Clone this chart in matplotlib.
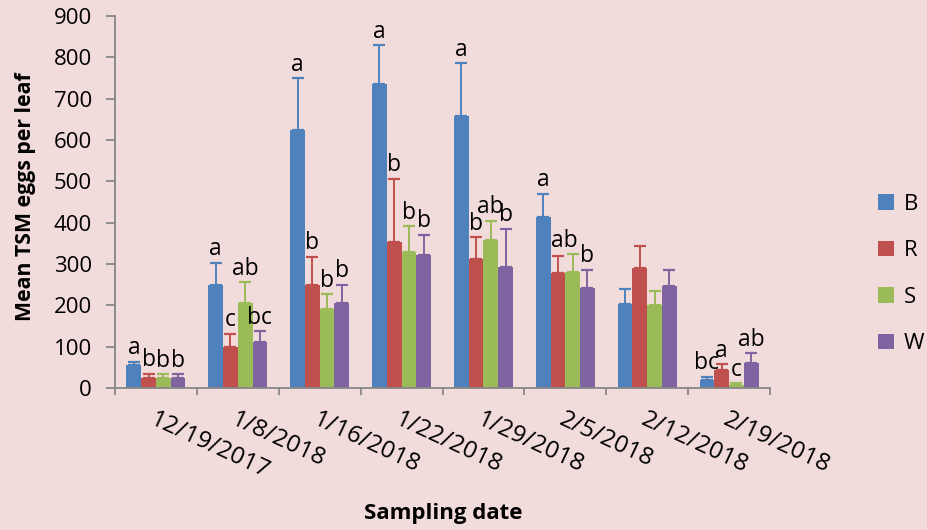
import numpy as np
import matplotlib.pyplot as plt

dates = ['12/19/2017', '1/8/2018', '1/16/2018', '1/22/2018',
         '1/29/2018', '2/5/2018', '2/12/2018', '2/19/2018']
series = ['B', 'R', 'S', 'W']
colors = ['#4F81BD', '#C0504D', '#9BBB59', '#8064A2']

# mean eggs per leaf
b_mean = [55, 248, 623, 736, 658, 414, 203, 19]
r_mean = [25, 100, 249, 353, 312, 279, 290, 44]
s_mean = [25, 206, 191, 330, 358, 281, 201, 7]
w_mean = [25, 112, 206, 321, 293, 241, 247, 61]

# upper error (SE)
b_err = [9, 55, 127, 94, 128, 56, 37, 8]
r_err = [10, 31, 69, 153, 53, 41, 54, 14]
s_err = [8, 50, 36, 62, 47, 42, 34, 5]
w_err = [8, 25, 44, 50, 92, 45, 38, 23]

# mean separation letters
b_let = ['a', 'a', 'a', 'a', 'a', 'a', '', 'bc']
r_let = ['b', 'c', 'b', 'b', 'b', '', '', 'a']
s_let = ['b', 'ab', 'b', 'b', 'ab', 'ab', '', 'c']
w_let = ['b', 'bc', 'b', 'b', 'b', 'b', '', 'ab']

means = [b_mean, r_mean, s_mean, w_mean]
errs = [b_err, r_err, s_err, w_err]
letters = [b_let, r_let, s_let, w_let]

plt.rcParams['font.family'] = ['Open Sans', 'DejaVu Sans']
bg = '#F2DCDB'
grey = '#868686'

fig = plt.figure(figsize=(9.27, 5.3), dpi=100, facecolor=bg)
ax = fig.add_axes([115 / 927, 142 / 530, 655 / 927, 372 / 530])
ax.set_facecolor(bg)

x = np.arange(len(dates))
w = 0.18
for i, name in enumerate(series):
    xs = x + (i - 1.5) * w
    ax.bar(xs, means[i], width=w, color=colors[i], label=name, zorder=2)
    ax.errorbar(xs, means[i], yerr=[np.zeros(len(x)), errs[i]], fmt='none',
                ecolor=colors[i], elinewidth=1.4, capsize=4.5, capthick=1.6, zorder=3)
    for j in range(len(x)):
        lab = letters[i][j]
        if not lab:
            continue
        dx = -6 if (i == 2 and j == 5) else 0
        ax.annotate(lab, (xs[j], means[i][j] + errs[i][j]), xytext=(dx, 1),
                    textcoords='offset points', ha='center', va='bottom',
                    fontsize=16.5, color='black', zorder=4)

ax.set_xlim(-0.5, len(dates) - 0.5)
ax.set_ylim(0, 900)
ax.set_yticks(np.arange(0, 901, 100))
ax.tick_params(axis='y', direction='out', length=6.5, width=1.3, color=grey,
               labelsize=16, pad=10)

ax.set_xticks(x)
ax.set_xticklabels(dates, rotation=-25, ha='left', va='top',
                   rotation_mode='anchor', fontsize=17.5)
ax.tick_params(axis='x', which='major', length=0, pad=14)
ax.set_xticks(np.arange(-0.5, len(dates)), minor=True)
ax.tick_params(axis='x', which='minor', direction='out', length=5, width=1.3, color=grey)

for side in ['top', 'right']:
    ax.spines[side].set_visible(False)
for side in ['left', 'bottom']:
    ax.spines[side].set_color(grey)
    ax.spines[side].set_linewidth(1.3)

fig.text(443 / 927, 1 - 514 / 530, 'Sampling date', ha='center', va='center',
         fontsize=16, fontweight='bold')
fig.text(26 / 927, 1 - 197 / 530, 'Mean TSM eggs per leaf', ha='center', va='center',
         rotation=90, fontsize=15.3, fontweight='bold')

fig.legend(loc='center left', bbox_to_anchor=(858 / 927, 1 - 274 / 530),
           frameon=False, fontsize=16, handlelength=0.7, handleheight=0.7,
           handletextpad=0.45, labelspacing=1.15)

fig.savefig('out.png', dpi=100, facecolor=bg)
